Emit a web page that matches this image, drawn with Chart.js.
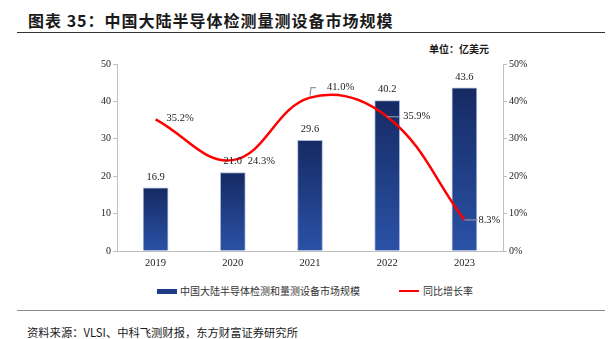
<!DOCTYPE html>
<html lang="zh-CN">
<head>
<meta charset="utf-8">
<script src="https://cdn.jsdelivr.net/npm/chart.js@4/dist/chart.umd.min.js"></script>
<style>
  body {
    margin: 0;
    width: 614px;
    height: 339px;
    background: #fff;
    position: relative;
    overflow: hidden;
    font-family: "Noto Sans CJK SC", sans-serif;
    color: #1a1a1a;
  }
  .title { position: absolute; left: 28px; top: 8px; font-size: 16px; font-weight: 700; letter-spacing: 1px; line-height: 24px; }
  .rule { position: absolute; left: 17px; width: 588px; height: 0; }
  .rule.top { top: 32px; border-top: 1.5px solid #333; }
  .rule.bottom { top: 310px; border-top: 1.5px solid #8a8a8a; }
  .unit { position: absolute; left: 429px; top: 42px; font-size: 10px; font-weight: 700; line-height: 14px; }
  #box { position: absolute; left: 0; top: 50px; width: 614px; height: 230px; }
  .legend { position: absolute; top: 284px; left: 157px; display: flex; align-items: center; font-size: 10px; line-height: 14px; color: #333; }
  .swatch-bar { width: 20px; height: 5px; background: #1f3c86; margin-right: 3px; }
  .swatch-line { width: 20px; height: 2px; background: #ff0000; margin: 0 4px 0 39px; }
  .source { position: absolute; left: 27px; top: 324px; font-size: 11.3px; line-height: 16px; }
</style>
</head>
<body>
<div class="title">图表 35：中国大陆半导体检测量测设备市场规模</div>
<div class="rule top"></div>
<div class="unit">单位：亿美元</div>
<div id="box"><canvas id="marketChart"></canvas></div>
<div class="legend">
  <span class="swatch-bar"></span><span>中国大陆半导体检测和量测设备市场规模</span>
  <span class="swatch-line"></span><span>同比增长率</span>
</div>
<div class="rule bottom"></div>
<div class="source">资料来源：VLSI、中科飞测财报，东方财富证券研究所</div>

<script>
const years = ['2019', '2020', '2021', '2022', '2023'];
const marketSize = [16.9, 21.0, 29.6, 40.2, 43.6];   // 亿美元
const growthRate = [35.2, 24.3, 41.0, 35.9, 8.3];    // %
const sizeAxisMax = 50;
const rateAxisMax = 50;

const serif = '"Liberation Serif", "Times New Roman", serif';
const axisGray = '#bfbfbf';

// each bar gets its own dark-to-light gradient, top to bottom
function barGradient(context) {
  const chart = context.chart;
  const area = chart.chartArea;
  if (!area) return '#1f3c86';
  const y = chart.scales.y;
  const top = y.getPixelForValue(context.raw);
  const bottom = y.getPixelForValue(0);
  const g = chart.ctx.createLinearGradient(0, top, 0, bottom);
  g.addColorStop(0, '#152a63');
  g.addColorStop(1, '#2b52a7');
  return g;
}

// where each growth-rate label sits relative to its point, plus an optional leader line
const callouts = [
  { dx: 11, dy: -1, leader: null },
  { dx: 15, dy: 1, leader: null },
  { dx: 17, dy: -10, leader: [[0, -2], [1, -10], [6, -10]] },
  { dx: 16, dy: 0, leader: [[0, 0], [12, 0]] },
  { dx: 14, dy: 0, leader: [[0, 0], [13, 0]] }
];

const valueLabels = {
  id: 'valueLabels',
  afterDatasetsDraw(chart) {
    const ctx = chart.ctx;
    ctx.save();
    ctx.font = '10.5px ' + serif;
    ctx.fillStyle = '#222';
    ctx.textBaseline = 'middle';

    ctx.textAlign = 'center';
    chart.getDatasetMeta(1).data.forEach((bar, i) => {
      ctx.fillText(marketSize[i].toFixed(1), bar.x, bar.y - 11);
    });

    ctx.textAlign = 'left';
    chart.getDatasetMeta(0).data.forEach((pt, i) => {
      const c = callouts[i];
      if (c.leader) {
        ctx.strokeStyle = '#8c96a8';
        ctx.lineWidth = 1.2;
        ctx.beginPath();
        c.leader.forEach(([lx, ly], k) => {
          if (k === 0) ctx.moveTo(pt.x + lx, pt.y + ly);
          else ctx.lineTo(pt.x + lx, pt.y + ly);
        });
        ctx.stroke();
      }
      ctx.fillText(growthRate[i].toFixed(1) + '%', pt.x + c.dx, pt.y + c.dy);
    });
    ctx.restore();
  }
};

new Chart(document.getElementById('marketChart'), {
  data: {
    labels: years,
    datasets: [
      {
        type: 'line',
        label: '同比增长率',
        data: growthRate,
        yAxisID: 'y1',
        borderColor: '#ff0000',
        borderWidth: 2.5,
        pointRadius: 0,
        tension: 0.4,
        fill: false,
        order: 0
      },
      {
        type: 'bar',
        label: '中国大陆半导体检测和量测设备市场规模',
        data: marketSize,
        yAxisID: 'y',
        backgroundColor: barGradient,
        borderColor: '#a9b8d6',
        borderWidth: 1,
        barThickness: 25,
        order: 1
      }
    ]
  },
  options: {
    responsive: true,
    maintainAspectRatio: false,
    animation: false,
    layout: { padding: { top: 14, left: 0, right: 0, bottom: 0 } },
    plugins: {
      legend: { display: false },
      tooltip: { enabled: false }
    },
    scales: {
      x: {
        grid: { display: false, drawTicks: false },
        border: { color: axisGray, width: 1 },
        ticks: { font: { family: serif, size: 10.5 }, color: '#222', padding: 6 },
        afterFit(scale) { scale.height = 29; }
      },
      y: {
        position: 'left',
        min: 0,
        max: sizeAxisMax,
        ticks: { stepSize: 10, font: { family: serif, size: 10 }, color: '#222', padding: 2 },
        grid: { drawOnChartArea: false, drawTicks: true, tickLength: 4, color: axisGray },
        border: { color: axisGray, width: 1 },
        afterFit(scale) { scale.width = 117; }
      },
      y1: {
        position: 'right',
        min: 0,
        max: rateAxisMax,
        ticks: {
          stepSize: 10,
          font: { family: serif, size: 10 },
          color: '#222',
          padding: 2,
          callback: v => v + '%'
        },
        grid: { drawOnChartArea: false, drawTicks: true, tickLength: 4, color: axisGray },
        border: { color: axisGray, width: 1 },
        afterFit(scale) { scale.width = 111; }
      }
    }
  },
  plugins: [valueLabels]
});
</script>
</body>
</html>
